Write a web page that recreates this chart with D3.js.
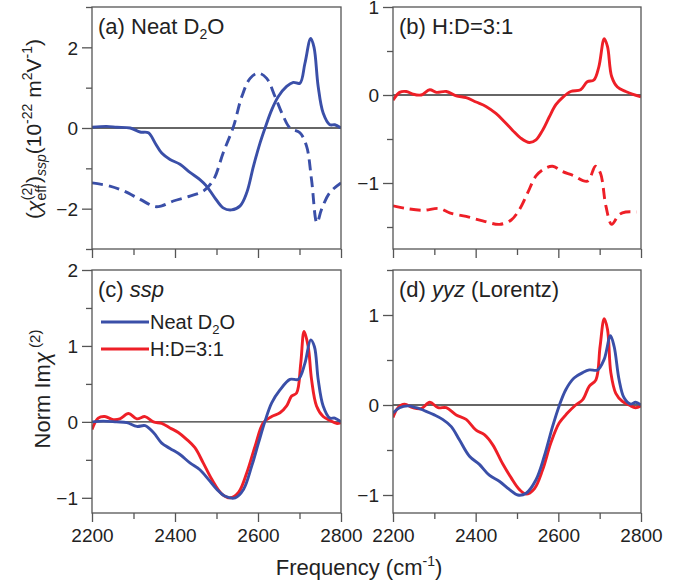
<!DOCTYPE html>
<html>
<head>
<meta charset="utf-8">
<script src="https://cdn.jsdelivr.net/npm/d3@7"></script>
<style>
  body { margin: 0; background: white; }
  text { font-family: "Liberation Sans", Arial, sans-serif; fill: #222; }
</style>
</head>
<body>
<div id="container"></div>
<script>
/* CONSTANTS AND GLOBALS */
const width = 688,
    height = 584

// DATA =================================================
// [frequency cm-1, value]
const aSolid = [[2200,0.02],[2235,0.04],[2260,0.02],[2292,0],[2316,-0.1],[2336,-0.12],[2352,-0.37],[2368,-0.62],[2388,-0.78],[2412,-0.9],[2436,-1.1],[2460,-1.28],[2476,-1.44],[2496,-1.73],[2516,-1.98],[2536,-2.03],[2557,-1.93],[2573,-1.6],[2589,-0.95],[2605,-0.37],[2617,0],[2633,0.45],[2649,0.78],[2669,1.03],[2685,1.13],[2701,1.11],[2713,1.6],[2727,2.22],[2735,2.0],[2745,1.03],[2757,0.37],[2773,0.08],[2785,0.08],[2800,0.0]]
const aDashed = [[2200,-1.36],[2243,-1.44],[2276,-1.56],[2316,-1.77],[2352,-1.95],[2368,-1.93],[2396,-1.81],[2436,-1.69],[2469,-1.56],[2493,-1.28],[2516,-0.62],[2541,0.04],[2561,0.78],[2581,1.23],[2601,1.36],[2621,1.23],[2641,0.78],[2661,0.29],[2677,0],[2701,-0.12],[2717,-0.45],[2729,-1.28],[2742,-2.35],[2753,-2.02],[2773,-1.6],[2800,-1.36]]
const bSolid = [[2200,-0.06],[2216,0.03],[2232,0.04],[2248,0.01],[2268,0],[2289,0.06],[2305,0.03],[2329,0.04],[2353,-0.01],[2377,-0.03],[2401,-0.08],[2425,-0.13],[2449,-0.21],[2469,-0.3],[2489,-0.4],[2509,-0.49],[2530,-0.54],[2546,-0.51],[2562,-0.4],[2578,-0.25],[2594,-0.11],[2610,-0.03],[2630,0.04],[2654,0.06],[2670,0.15],[2686,0.17],[2698,0.32],[2711,0.64],[2719,0.55],[2729,0.21],[2743,0.09],[2763,0.04],[2779,0.01],[2800,-0.02]]
const bDashed = [[2200,-1.26],[2232,-1.29],[2272,-1.31],[2313,-1.29],[2337,-1.34],[2377,-1.38],[2417,-1.43],[2458,-1.47],[2486,-1.42],[2506,-1.3],[2526,-1.11],[2546,-0.92],[2566,-0.84],[2586,-0.81],[2610,-0.87],[2634,-0.91],[2670,-0.98],[2690,-0.81],[2702,-0.89],[2715,-1.26],[2729,-1.47],[2747,-1.36],[2763,-1.33],[2790,-1.33]]
const cBlue = [[2200,0],[2227,0.01],[2259,0],[2284,-0.01],[2308,-0.06],[2328,-0.05],[2348,-0.14],[2368,-0.28],[2388,-0.35],[2412,-0.43],[2436,-0.54],[2460,-0.63],[2481,-0.76],[2501,-0.89],[2521,-0.98],[2545,-1.0],[2565,-0.89],[2585,-0.58],[2601,-0.28],[2617,0.01],[2633,0.25],[2653,0.42],[2677,0.56],[2697,0.56],[2713,0.77],[2727,1.08],[2736,0.99],[2745,0.56],[2757,0.21],[2773,0.05],[2785,0.05],[2800,0]]
const cRed = [[2200,-0.1],[2215,0.05],[2231,0.07],[2251,0.03],[2267,0.04],[2288,0.11],[2308,0.04],[2328,0.07],[2348,0],[2368,-0.02],[2388,-0.08],[2408,-0.14],[2428,-0.23],[2448,-0.34],[2468,-0.54],[2489,-0.76],[2513,-0.95],[2533,-1.0],[2553,-0.93],[2573,-0.67],[2593,-0.32],[2613,-0.01],[2633,0.07],[2653,0.12],[2669,0.21],[2681,0.34],[2693,0.38],[2703,0.77],[2711,1.19],[2721,0.99],[2729,0.56],[2741,0.21],[2757,0.07],[2773,0.02],[2789,-0.02],[2800,-0.01]]
const dBlue = [[2200,-0.09],[2216,-0.03],[2236,-0.01],[2256,-0.03],[2280,-0.07],[2300,-0.11],[2320,-0.16],[2341,-0.24],[2361,-0.39],[2385,-0.57],[2409,-0.66],[2433,-0.78],[2458,-0.85],[2482,-0.94],[2502,-1.0],[2522,-0.98],[2546,-0.83],[2566,-0.57],[2586,-0.24],[2602,-0.01],[2618,0.17],[2638,0.3],[2659,0.36],[2675,0.39],[2695,0.39],[2711,0.51],[2726,0.77],[2735,0.65],[2747,0.28],[2759,0.08],[2775,0.01],[2787,0.03],[2800,0]]
const dRed = [[2200,-0.14],[2212,-0.03],[2228,0.01],[2248,-0.03],[2268,-0.04],[2289,0.03],[2309,-0.03],[2329,-0.03],[2353,-0.11],[2377,-0.16],[2401,-0.28],[2421,-0.33],[2441,-0.44],[2465,-0.65],[2486,-0.81],[2506,-0.94],[2522,-0.99],[2542,-0.93],[2562,-0.72],[2582,-0.42],[2602,-0.2],[2622,-0.09],[2642,0],[2659,0.06],[2675,0.21],[2691,0.28],[2701,0.65],[2711,0.96],[2719,0.84],[2727,0.36],[2739,0.13],[2755,0.04],[2771,0],[2787,-0.03],[2800,-0.01]]

const xDomain = [2200, 2800]
const xTicks = [2200, 2300, 2400, 2500, 2600, 2700, 2800]
const xLabels = [2200, 2400, 2600, 2800]

const BLUE = "#3a4fa8",
    RED = "#ee1f27"

//SVG
const svg = d3.select("#container")
    .append("svg")
    .attr("width", width)
    .attr("height", height)
    .style("background-color", "white")

function drawPanel(p) {
    const xScale = d3.scaleLinear().domain(xDomain).range([p.left, p.right])
    const yScale = d3.scaleLinear().domain(p.yDomain).range([p.bottom, p.top])
    const g = svg.append("g")

    // AXES
    const xAxis = d3.axisBottom(xScale)
        .tickValues(xTicks)
        .tickSizeOuter(0)
        .tickPadding(6)
        .tickFormat(d => p.xLabels && xLabels.includes(d) ? d : "")
    const gx = g.append("g")
        .attr("transform", "translate(0," + p.bottom + ")")
        .call(xAxis)
    gx.selectAll(".tick line")
        .attr("y2", d => xLabels.includes(d) ? 9 : 6)

    const yAxis = d3.axisLeft(yScale)
        .tickValues(p.yTicks)
        .tickSizeOuter(0)
        .tickPadding(8)
        .tickFormat(d => p.yLabels.includes(d) ? d3.format("")(d).replace("-", "\u2212") : "")
    const gy = g.append("g")
        .attr("transform", "translate(" + p.left + ",0)")
        .call(yAxis)
    gy.selectAll(".tick line")
        .attr("x2", d => p.yLabels.includes(d) ? -10 : -6)

    g.selectAll(".domain").remove()
    g.selectAll(".tick line").attr("stroke", "#555").attr("stroke-width", 1.3)
    g.selectAll(".tick text")
        .style("font-size", "19px")
        .attr("fill", "#222")
    gx.selectAll(".tick text").attr("dy", "0.9em")
    gy.selectAll(".tick text").attr("dy", "0.36em")

    // zero line
    g.append("line")
        .attr("x1", p.left).attr("x2", p.right)
        .attr("y1", yScale(0)).attr("y2", yScale(0))
        .attr("stroke", "#333")
        .attr("stroke-width", 1.4)

    const line = d3.line()
        .x(d => xScale(d[0]))
        .y(d => yScale(d[1]))
        .curve(d3.curveCatmullRom.alpha(0.5))

    g.append("clipPath").attr("id", "clip" + p.id)
        .append("rect")
        .attr("x", p.left).attr("y", p.top)
        .attr("width", p.right - p.left).attr("height", p.bottom - p.top)

    g.append("g")
        .attr("clip-path", "url(#clip" + p.id + ")")
        .selectAll("path")
        .data(p.series)
        .join("path")
        .attr("d", s => line(s.data))
        .attr("fill", "none")
        .attr("stroke", s => s.color)
        .attr("stroke-width", 2.9)
        .attr("stroke-linejoin", "round")
        .attr("stroke-dasharray", s => s.dashed ? "11,6" : null)

    // frame
    g.append("rect")
        .attr("x", p.left).attr("y", p.top)
        .attr("width", p.right - p.left).attr("height", p.bottom - p.top)
        .attr("fill", "none")
        .attr("stroke", "#555")
        .attr("stroke-width", 1.3)

    // LABEL
    const t = g.append("text")
        .attr("x", p.left + 6)
        .attr("y", p.top + 27)
        .style("font-size", "22px")
    p.title(t)

    return { xScale, yScale, g }
}

// (a)
drawPanel({
    id: "a", left: 92, right: 341, top: 7, bottom: 249,
    yDomain: [-3, 3], yTicks: [-3, -2, -1, 0, 1, 2, 3], yLabels: [-2, 0, 2],
    xLabels: false,
    series: [{ data: aSolid, color: BLUE }, { data: aDashed, color: BLUE, dashed: true }],
    title: t => {
        t.append("tspan").text("(a) Neat D")
        t.append("tspan").text("2").style("font-size", "14px").attr("dy", 5)
        t.append("tspan").text("O").attr("dy", -5)
    }
})

// (b)
drawPanel({
    id: "b", left: 393, right: 641, top: 7, bottom: 249,
    yDomain: [-1.75, 1], yTicks: [-1.5, -1, -0.5, 0, 0.5, 1], yLabels: [-1, 0, 1],
    xLabels: false,
    series: [{ data: bSolid, color: RED }, { data: bDashed, color: RED, dashed: true }],
    title: t => t.text("(b) H:D=3:1")
})

// (c)
const c = drawPanel({
    id: "c", left: 92, right: 341, top: 270, bottom: 513,
    yDomain: [-1.2, 2], yTicks: [-1, -0.5, 0, 0.5, 1, 1.5, 2], yLabels: [-1, 0, 1, 2],
    xLabels: true,
    series: [{ data: cRed, color: RED }, { data: cBlue, color: BLUE }],
    title: t => {
        t.append("tspan").text("(c) ")
        t.append("tspan").text("ssp").style("font-style", "italic")
    }
})

// legend in (c)
const legend = [{ name: "Neat D", sub: "2", tail: "O", color: BLUE }, { name: "H:D=3:1", color: RED }]
legend.forEach((d, i) => {
    const y = 322 + i * 27
    c.g.append("line")
        .attr("x1", 101).attr("x2", 149)
        .attr("y1", y).attr("y2", y)
        .attr("stroke", d.color).attr("stroke-width", 2.9)
    const t = c.g.append("text")
        .attr("x", 150).attr("y", y + 7)
        .style("font-size", "20px")
    t.append("tspan").text(d.name)
    if (d.sub) {
        t.append("tspan").text(d.sub).style("font-size", "13px").attr("dy", 5)
        t.append("tspan").text(d.tail).attr("dy", -5)
    }
})

// (d)
drawPanel({
    id: "d", left: 393, right: 641, top: 270, bottom: 513,
    yDomain: [-1.2, 1.5], yTicks: [-1, -0.5, 0, 0.5, 1, 1.5], yLabels: [-1, 0, 1],
    xLabels: true,
    series: [{ data: dRed, color: RED }, { data: dBlue, color: BLUE }],
    title: t => {
        t.append("tspan").text("(d) ")
        t.append("tspan").text("yyz").style("font-style", "italic")
        t.append("tspan").text(" (Lorentz)")
    }
})

// AXIS TITLES
svg.append("text")
    .attr("x", 359)
    .attr("y", 575)
    .attr("text-anchor", "middle")
    .style("font-size", "22px")
    .call(t => {
        t.append("tspan").text("Frequency (cm")
        t.append("tspan").text("-1").style("font-size", "14px").attr("dy", -9)
        t.append("tspan").text(")").attr("dy", 9)
    })

const yTop = svg.append("text")
    .attr("transform", "translate(41,129) rotate(-90)")
    .attr("text-anchor", "middle")
    .style("font-size", "21px")
yTop.append("tspan").text("(")
yTop.append("tspan").text("\u03c7").style("font-style", "italic")
yTop.append("tspan").text("eff").style("font-size", "14px").attr("dy", 5)
yTop.append("tspan").text("(2)").style("font-size", "14px").attr("dx", -15).attr("dy", -14)
yTop.append("tspan").text(")").attr("dy", 9)
yTop.append("tspan").text("ssp").style("font-size", "14px").style("font-style", "italic").attr("dy", 5)
yTop.append("tspan").text("(10").attr("dy", -5)
yTop.append("tspan").text("-22").style("font-size", "14px").attr("dy", -9)
yTop.append("tspan").text(" m").attr("dy", 9)
yTop.append("tspan").text("2").style("font-size", "14px").attr("dy", -9)
yTop.append("tspan").text("V").attr("dy", 9)
yTop.append("tspan").text("-1").style("font-size", "14px").attr("dy", -9)
yTop.append("tspan").text(")").attr("dy", 9)

const yBot = svg.append("text")
    .attr("transform", "translate(50,389) rotate(-90)")
    .attr("text-anchor", "middle")
    .style("font-size", "22px")
yBot.append("tspan").text("Norm Im")
yBot.append("tspan").text("\u03c7").style("font-style", "italic")
yBot.append("tspan").text(" (2)").style("font-size", "15px").attr("dy", -10)
</script>
</body>
</html>
